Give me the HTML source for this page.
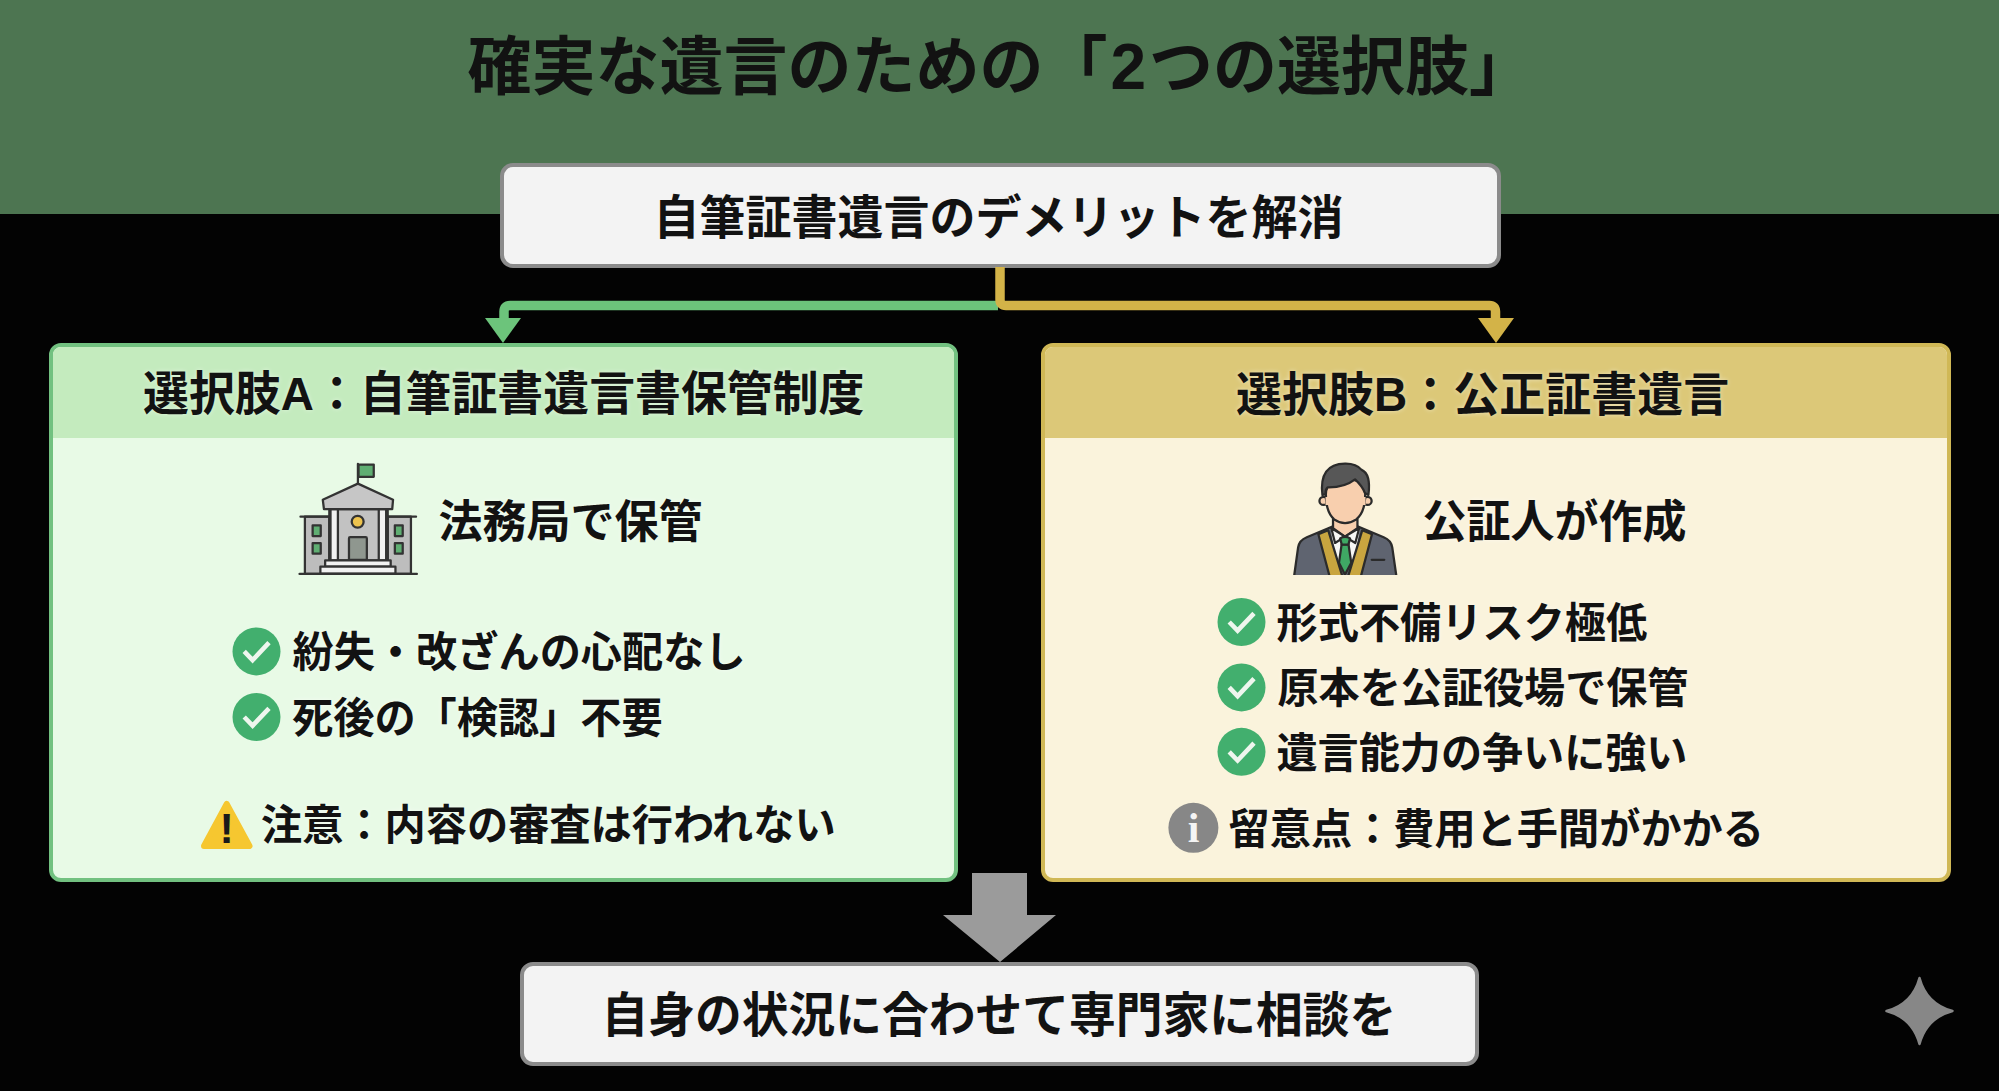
<!DOCTYPE html>
<html lang="ja">
<head>
<meta charset="utf-8">
<title>確実な遺言のための「2つの選択肢」</title>
<style>
html,body{margin:0;padding:0;}
body{width:1999px;height:1091px;position:relative;overflow:hidden;background:#030303;
 font-family:"Liberation Sans","Noto Sans CJK JP",sans-serif;color:#121212;}
.abs{position:absolute;}
.band{left:0;top:0;width:1999px;height:214px;background:#4d7551;}
.t{position:absolute;white-space:nowrap;font-weight:700;line-height:1;letter-spacing:0;transform:scaleY(1.025);transform-origin:50% 50%;}
.box{position:absolute;box-sizing:border-box;background:#f3f3f3;border:4px solid #8b8b8b;border-radius:13px;}
.card{position:absolute;box-sizing:border-box;border-radius:12px;overflow:hidden;}
.cardA{left:49px;top:343px;width:909px;height:539px;border:4px solid #72c180;background:#e8fae6;}
.cardB{left:1040.500px;top:343px;width:910px;height:539px;border:4px solid #d0b856;background:#faf3dc;}
.hdA{position:absolute;left:0;top:0;right:0;height:91px;background:#c4ebbe;}
.hdB{position:absolute;left:0;top:0;right:0;height:91px;background:#dcc878;}
svg{position:absolute;overflow:visible;}
.g{text-shadow:0 0 5px rgba(255,255,255,.5);}
</style>
</head>
<body>
<div class="abs band"></div>

<div class="t" id="title" style="left:467.500px;top:35px;font-size:64px;transform:none;">確実な遺言のための「<span style="padding:0 3px 0 3px">2</span>つの選択肢」</div>

<div class="box" style="left:499.500px;top:163px;width:1001.500px;height:104.500px;"></div>
<div class="t" id="topt" style="left:653.5px;top:194.5px;font-size:46px;">自筆証書遺言のデメリットを解消</div>

<!-- connectors -->
<svg id="conn" style="left:0;top:0;" width="1999" height="1091" viewBox="0 0 1999 1091">
  <path d="M998 305.5 H510 Q504 305.5 504 311.5 V320" fill="none" stroke="#6cc47b" stroke-width="9.5"/>
  <path d="M485 318 H521 L503 343 Z" fill="#6cc47b"/>
  <path d="M1000 267 V299.5 Q1000 305.5 1006 305.5 H1489.500 Q1495.500 305.500 1495.500 311.5 V320" fill="none" stroke="#d3b348" stroke-width="9.5"/>
  <path d="M1478 318 H1514 L1496 343 Z" fill="#d3b348"/>
  <path d="M972 873 H1027 V915 H1056 L1000 962 L943 915 H972 Z" fill="#9b9b9b"/>
  <path d="M1919.500 978 Q1926.500 1004 1952.500 1011 Q1926.500 1018 1919.500 1044 Q1912.500 1018 1886.500 1011 Q1912.500 1004 1919.500 978 Z" fill="#878787" stroke="#878787" stroke-width="2.500" stroke-linejoin="round"/>
</svg>

<div class="card cardA"><div class="hdA"></div></div>
<div class="card cardB"><div class="hdB"></div></div>

<div class="t g" id="ha" style="left:143px;top:371.5px;font-size:45.9px;">選択肢A：自筆証書遺言書保管制度</div>
<div class="t g" id="hb" style="left:1236px;top:371.5px;font-size:46px;">選択肢B：公正証書遺言</div>

<div class="t g" id="sa" style="left:438.5px;top:500.5px;font-size:44px;">法務局で保管</div>
<div class="t g" id="sb" style="left:1422.5px;top:500.5px;font-size:44px;">公証人が作成</div>

<div class="t g" id="a1" style="left:292.5px;top:632.5px;font-size:41.2px;">紛失・改ざんの心配なし</div>
<div class="t g" id="a2" style="left:292px;top:698.5px;font-size:41.2px;">死後の「検認」不要</div>
<div class="t g" id="a3" style="left:261px;top:805.5px;font-size:41.2px;">注意：内容の審査は行われない</div>

<div class="t g" id="b1" style="left:1276.5px;top:604px;font-size:41.2px;">形式不備リスク極低</div>
<div class="t g" id="b2" style="left:1277.5px;top:669px;font-size:41.1px;">原本を公証役場で保管</div>
<div class="t g" id="b3" style="left:1276.5px;top:733.5px;font-size:41.1px;">遺言能力の争いに強い</div>
<div class="t g" id="b4" style="left:1228.5px;top:810px;font-size:41.2px;">留意点：費用と手間がかかる</div>


<!-- icons -->
<svg id="icons" style="left:0;top:0;" width="1999" height="1091" viewBox="0 0 1999 1091">
  <defs>
    <g id="chk">
      <circle cx="0" cy="0" r="24" fill="#42af6e"/>
      <path d="M-12.3 0 L-3.900 8.700 L12.500 -8.700" fill="none" stroke="#eef6ee" stroke-width="4.600"/>
    </g>
  </defs>
  <use href="#chk" x="256.500" y="651.400"/>
  <use href="#chk" x="256.500" y="717"/>
  <use href="#chk" x="1241.500" y="622"/>
  <use href="#chk" x="1241.500" y="687.400"/>
  <use href="#chk" x="1241.500" y="751.800"/>

  <!-- warning -->
  <path d="M226.700 804 L249.500 846 H204 Z" fill="#f6c730" stroke="#f6c730" stroke-width="6" stroke-linejoin="round"/>
  <text x="226.700" y="842.700" text-anchor="middle" style="font-family:'Liberation Sans',sans-serif;font-weight:700;font-size:43px" fill="#1a1a1a">!</text>

  <!-- info -->
  <circle cx="1193.400" cy="827.800" r="25" fill="#878787"/>
  <text x="1193.600" y="841.800" text-anchor="middle" style="font-family:'Liberation Serif',serif;font-weight:700;font-size:42px" fill="#f4f4f4">i</text>

  <!-- building -->
  <g transform="translate(290,455) scale(0.11915)" stroke="#333" stroke-width="19" stroke-linejoin="round" stroke-linecap="round">
    <rect x="125" y="518" width="205" height="480" fill="#bdbdbd"/>
    <rect x="820" y="518" width="195" height="480" fill="#bdbdbd"/>
    <path d="M88 518 H330 M820 518 H1058" fill="none"/>
    <rect x="190" y="590" width="68" height="90" fill="#5fae72"/>
    <rect x="190" y="740" width="68" height="88" fill="#5fae72"/>
    <rect x="880" y="590" width="66" height="90" fill="#5fae72"/>
    <rect x="880" y="740" width="66" height="88" fill="#5fae72"/>
    <rect x="330" y="455" width="490" height="430" fill="#c2c2c2"/>
    <rect x="340" y="455" width="62" height="430" fill="#f1f1f1"/>
    <rect x="745" y="455" width="62" height="430" fill="#f1f1f1"/>
    <path d="M570 240 L865 375 L858 455 H285 L275 375 Z" fill="#c6c6c6"/>
    <path d="M570 240 V75" fill="none"/>
    <rect x="575" y="80" width="128" height="103" fill="#5fae72"/>
    <circle cx="568" cy="560" r="50" fill="#edc34e"/>
    <path d="M495 880 V700 Q495 690 505 690 H635 Q645 690 645 700 V880 Z" fill="#8f978f"/>
    <rect x="295" y="885" width="550" height="52" fill="#f1f1f1"/>
    <rect x="255" y="937" width="630" height="58" fill="#f1f1f1"/>
    <path d="M80 998 H1065" fill="none"/>
  </g>

  <!-- person -->
  <clipPath id="pc"><rect x="0" y="0" width="1100" height="1007"/></clipPath>
  <g clip-path="url(#pc)" transform="translate(1280,455) scale(0.11916)" stroke="#2b2b2b" stroke-width="19" stroke-linejoin="round" stroke-linecap="round">
    <path d="M120 1008 L152 775 Q162 715 225 690 L440 600 L545 660 L655 600 L870 690 Q932 715 942 775 L975 1008 Z" fill="#5f6470" stroke="none"/>
    <path d="M445 540 V615 L545 685 L650 615 V540 Z" fill="#f8cfae"/>
    <path d="M425 620 L545 690 L670 620 L625 880 L545 1005 L470 880 Z" fill="#f7f7f5" stroke="none"/>
    <path d="M430 612 L462 738 L545 685 L632 738 L665 612 L545 685 Z" fill="#f7f7f5"/>
    <path d="M517 750 H575 L598 905 L545 1003 L495 905 Z" fill="#3fa864"/>
    <path d="M505 700 Q545 672 588 700 L574 752 H518 Z" fill="#3fa864"/>
    <path d="M322 665 L405 632 L530 1040 H422 Z" fill="#c9a53f"/>
    <path d="M772 665 L690 632 L565 1040 H673 Z" fill="#c9a53f"/>
    <path d="M120 1005 L152 775 Q162 715 225 690 L440 600 M655 600 L870 690 Q932 715 942 775 L975 1005" fill="none"/>
    <path d="M770 880 H875" fill="none"/>
    <circle cx="365" cy="385" r="34" fill="#f8cfae"/>
    <circle cx="735" cy="385" r="34" fill="#f8cfae"/>
    <path d="M385 330 Q385 480 455 540 Q545 605 640 540 Q715 480 715 330 Q715 200 550 200 Q385 200 385 330 Z" fill="#f8cfae"/>
    <path d="M394 352 V420 M706 352 V420" stroke="#f8cfae" stroke-width="24" fill="none" stroke-linecap="butt"/>
    <path d="M356 335 Q325 75 545 72 Q640 70 685 125 Q765 160 742 335 L712 318 Q690 260 630 205 Q540 275 400 272 Q378 292 382 330 Z" fill="#575757"/>
  </g>
</svg>

<div class="box" style="left:520px;top:962px;width:959px;height:104px;"></div>
<div class="t" id="bott" style="left:601.5px;top:992.5px;font-size:46.75px;">自身の状況に合わせて専門家に相談を</div>

</body>
</html>
